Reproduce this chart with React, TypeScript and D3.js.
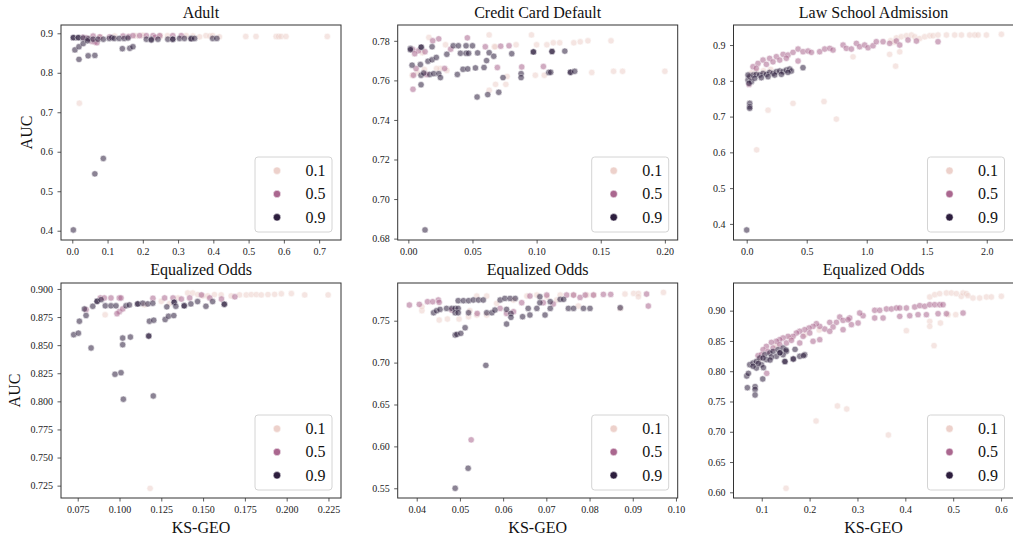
import React, { useEffect, useRef } from 'react';
import * as d3 from 'd3';

type Pt = [number, number];

// hue levels of the legend and their cubehelix colours
const hueLevels = ['0.1', '0.5', '0.9'];
const hueColors = ['#edd1cb', '#aa678f', '#2d1e3e'];

const titles = ['Adult', 'Credit Card Default', 'Law School Admission'];
const xLabels = ['Equalized Odds', 'KS-GEO'];
const yLabel = 'AUC';

// tick values
const adultEoXTicks = [0, 0.1, 0.2, 0.3, 0.4, 0.5, 0.6, 0.7];
const adultEoYTicks = [0.4, 0.5, 0.6, 0.7, 0.8, 0.9];
const creditEoXTicks = [0, 0.05, 0.1, 0.15, 0.2];
const creditEoYTicks = [0.68, 0.7, 0.72, 0.74, 0.76, 0.78];
const lawEoXTicks = [0, 0.5, 1.0, 1.5, 2.0];
const lawEoYTicks = [0.4, 0.5, 0.6, 0.7, 0.8, 0.9];
const adultKsXTicks = [0.075, 0.1, 0.125, 0.15, 0.175, 0.2, 0.225];
const adultKsYTicks = [0.725, 0.75, 0.775, 0.8, 0.825, 0.85, 0.875, 0.9];
const creditKsXTicks = [0.04, 0.05, 0.06, 0.07, 0.08, 0.09, 0.1];
const creditKsYTicks = [0.55, 0.6, 0.65, 0.7, 0.75];
const lawKsXTicks = [0.1, 0.2, 0.3, 0.4, 0.5, 0.6];
const lawKsYTicks = [0.6, 0.65, 0.7, 0.75, 0.8, 0.85, 0.9];

// ---- Adult, Equalized Odds vs AUC
const adultEoLow: Pt[] = [
  [0.02, 0.723], [0.05, 0.886], [0.08, 0.89], [0.12, 0.893], [0.18, 0.894], [0.2, 0.895], [0.25, 0.893],
  [0.27, 0.894], [0.323, 0.894], [0.342, 0.893], [0.361, 0.891], [0.379, 0.894], [0.39, 0.893], [0.398, 0.894],
  [0.417, 0.891], [0.492, 0.892], [0.521, 0.892], [0.578, 0.892], [0.585, 0.892], [0.592, 0.892], [0.606, 0.892],
  [0.723, 0.892],
];
const adultEoMid: Pt[] = [
  [0.03, 0.89], [0.04, 0.888], [0.055, 0.88], [0.059, 0.893], [0.064, 0.878], [0.07, 0.876], [0.078, 0.891],
  [0.106, 0.891], [0.144, 0.893], [0.16, 0.892], [0.172, 0.894], [0.191, 0.894], [0.21, 0.894], [0.229, 0.894],
  [0.235, 0.89], [0.248, 0.894], [0.285, 0.894], [0.309, 0.894],
];
const adultEoHigh: Pt[] = [
  [0.003, 0.889], [0.003, 0.889], [0.017, 0.889], [0.017, 0.889], [0.031, 0.888], [0.045, 0.886], [0.059, 0.885],
  [0.073, 0.885], [0.088, 0.885], [0.105, 0.887], [0.112, 0.889], [0.119, 0.887], [0.133, 0.887], [0.147, 0.887],
  [0.158, 0.888], [0.21, 0.885], [0.224, 0.885], [0.224, 0.883], [0.243, 0.885], [0.271, 0.885], [0.285, 0.885],
  [0.285, 0.885], [0.304, 0.887], [0.318, 0.887], [0.337, 0.887], [0.337, 0.886], [0.347, 0.887], [0.398, 0.887],
  [0.41, 0.887], [0.0075, 0.858], [0.019, 0.866], [0.031, 0.874], [0.043, 0.881], [0.019, 0.834], [0.045, 0.843],
  [0.064, 0.844], [0.142, 0.861], [0.163, 0.862], [0.172, 0.866], [0.064, 0.544], [0.088, 0.583], [0.003, 0.402],
];

// ---- Credit Card Default, Equalized Odds vs AUC
const creditEoLow: Pt[] = [
  [0.063, 0.783], [0.096, 0.783], [0.1, 0.778], [0.108, 0.778], [0.113, 0.779], [0.118, 0.779], [0.129, 0.779],
  [0.134, 0.7795], [0.14, 0.78], [0.158, 0.78], [0.084, 0.778], [0.067, 0.777], [0.016, 0.7817], [0.029, 0.778],
  [0.076, 0.758], [0.068, 0.758], [0.063, 0.755], [0.099, 0.7626], [0.106, 0.7626], [0.143, 0.764], [0.16, 0.7646],
  [0.167, 0.7646], [0.2, 0.7646], [0.077, 0.762], [0.007, 0.764], [0.0125, 0.7655], [0.025, 0.766], [0.003, 0.7626],
  [0.0676, 0.777], [0.022, 0.766], [0.03, 0.765], [0.011, 0.774],
];
const creditEoMid: Pt[] = [
  [0.0237, 0.781], [0.046, 0.7815], [0.019, 0.78], [0.06, 0.777], [0.072, 0.7773], [0.0785, 0.7775], [0.033, 0.7758],
  [0.0884, 0.7668], [0.1053, 0.767], [0.0694, 0.7665], [0.0283, 0.766], [0.0036, 0.7555], [0.014, 0.763],
  [0.004, 0.7626], [0.0034, 0.7756], [0.006, 0.766], [0.008, 0.775], [0.013, 0.7745], [0.005, 0.7735],
];
const creditEoHigh: Pt[] = [
  [0.0016, 0.7761], [0.01, 0.7768], [0.01, 0.7768], [0.0185, 0.777], [0.035, 0.7775], [0.039, 0.7775], [0.045, 0.7775],
  [0.05, 0.7775], [0.03, 0.7732], [0.0406, 0.7737], [0.045, 0.7737], [0.047, 0.7737], [0.054, 0.7739], [0.063, 0.774],
  [0.0666, 0.7722], [0.061, 0.77], [0.0806, 0.7735], [0.0975, 0.7744], [0.0975, 0.7744], [0.112, 0.7746],
  [0.112, 0.7746], [0.122, 0.7748], [0.0029, 0.7677], [0.0094, 0.768], [0.0153, 0.7697], [0.0185, 0.7704],
  [0.0218, 0.7716], [0.0426, 0.7656], [0.0463, 0.7658], [0.0523, 0.7663], [0.059, 0.7665], [0.0382, 0.763],
  [0.0738, 0.7614], [0.0879, 0.7634], [0.0879, 0.7614], [0.1095, 0.764], [0.111, 0.7641], [0.1264, 0.7641],
  [0.1264, 0.7641], [0.1297, 0.7646], [0.0099, 0.7578], [0.0099, 0.7626], [0.0166, 0.763], [0.0198, 0.7634],
  [0.0237, 0.7634], [0.025, 0.7614], [0.0536, 0.7516], [0.0619, 0.7528], [0.0705, 0.754], [0.013, 0.6844],
  [0.012, 0.7637], [0.0016, 0.7755],
];

// ---- Law School Admission, Equalized Odds vs AUC
const lawEoLow: Pt[] = [
  [1.247, 0.92], [1.288, 0.923], [1.33, 0.926], [1.372, 0.928], [1.4, 0.923], [1.441, 0.918], [1.483, 0.923],
  [1.525, 0.926], [1.553, 0.926], [1.594, 0.928], [1.664, 0.928], [1.733, 0.928], [1.789, 0.928], [1.858, 0.928],
  [1.9, 0.928], [1.928, 0.928], [1.997, 0.928], [2.122, 0.93], [1.2, 0.912], [1.23, 0.908], [0.886, 0.867],
  [1.191, 0.874], [1.241, 0.841], [1.275, 0.881], [0.178, 0.718], [0.386, 0.737], [0.644, 0.742], [0.747, 0.693],
  [0.083, 0.607], [0.04, 0.822], [0.08, 0.826], [0.14, 0.828], [0.2, 0.832], [0.03, 0.81],
];
const lawEoMid: Pt[] = [
  [0.0525, 0.8394], [0.094, 0.8487], [0.136, 0.858], [0.191, 0.8627], [0.247, 0.8674], [0.303, 0.874], [0.344, 0.872],
  [0.386, 0.8795], [0.428, 0.8888], [0.469, 0.8814], [0.511, 0.8832], [0.539, 0.8795], [0.608, 0.8814], [0.65, 0.8888],
  [0.692, 0.8907], [0.719, 0.886], [0.803, 0.9], [0.83, 0.8907], [0.872, 0.8888], [0.914, 0.9047], [0.941, 0.8953],
  [0.983, 0.9], [1.011, 0.8925], [1.053, 0.8981], [1.08, 0.9093], [1.136, 0.9093], [1.191, 0.9047], [1.247, 0.9112],
  [1.275, 0.9], [1.344, 0.914], [1.414, 0.9112], [1.594, 0.9093], [0.08, 0.835], [0.164, 0.846], [0.219, 0.853],
  [0.275, 0.858], [0.33, 0.863], [0.428, 0.8553], [0.02, 0.79],
];
const lawEoHigh: Pt[] = [
  [0.011, 0.8022], [0.025, 0.8115], [0.039, 0.7977], [0.053, 0.8162], [0.08, 0.8181], [0.108, 0.8162], [0.136, 0.8208],
  [0.164, 0.8181], [0.191, 0.8236], [0.219, 0.8208], [0.247, 0.8255], [0.275, 0.8274], [0.303, 0.8255], [0.33, 0.8301],
  [0.358, 0.8329], [0.372, 0.8274], [0.011, 0.8162], [0.019, 0.7929], [0.469, 0.8367], [0.025, 0.7371],
  [0.025, 0.7278], [0.025, 0.7231], [0.067, 0.807], [0.122, 0.8087], [0.178, 0.8115], [0.233, 0.8162],
  [0.289, 0.8181], [0.344, 0.8236], [0.0, 0.383],
];

// ---- Adult, KS-GEO vs AUC
const adultKsLow: Pt[] = [
  [0.0914, 0.877], [0.1408, 0.8964], [0.1438, 0.8964], [0.1468, 0.895], [0.1498, 0.8938], [0.1528, 0.8938],
  [0.1568, 0.895], [0.1608, 0.8947], [0.1668, 0.8938], [0.1718, 0.8947], [0.1758, 0.8947], [0.1788, 0.895],
  [0.1818, 0.895], [0.1848, 0.8947], [0.1888, 0.895], [0.1928, 0.8952], [0.1968, 0.8957], [0.2028, 0.8959],
  [0.2108, 0.8947], [0.2248, 0.8947], [0.1183, 0.7226], [0.125, 0.889], [0.13, 0.887], [0.135, 0.892], [0.115, 0.886],
];
const adultKsMid: Pt[] = [
  [0.0885, 0.892], [0.0909, 0.892], [0.0949, 0.892], [0.0999, 0.892], [0.1009, 0.892], [0.12, 0.8917], [0.127, 0.892],
  [0.132, 0.892], [0.137, 0.891], [0.142, 0.892], [0.149, 0.8947], [0.154, 0.892], [0.161, 0.891], [0.169, 0.893],
  [0.0999, 0.8798], [0.1019, 0.8822], [0.08, 0.8816], [0.0985, 0.878],
];
const adultKsHigh: Pt[] = [
  [0.0726, 0.8593], [0.0754, 0.8607], [0.076, 0.8713], [0.08, 0.8764], [0.079, 0.8822], [0.083, 0.8475], [0.084, 0.8846],
  [0.0866, 0.889], [0.0866, 0.889], [0.089, 0.8905], [0.0915, 0.885], [0.0949, 0.885], [0.0979, 0.885], [0.1019, 0.8563],
  [0.1065, 0.8572], [0.1019, 0.8504], [0.1039, 0.885], [0.1059, 0.8858], [0.1109, 0.8867], [0.1109, 0.8867],
  [0.1139, 0.8873], [0.1169, 0.8867], [0.1199, 0.8873], [0.1175, 0.8581], [0.1175, 0.8581], [0.1179, 0.8713],
  [0.1205, 0.8722], [0.1273, 0.8728], [0.1293, 0.8757], [0.1325, 0.8763], [0.1283, 0.8841], [0.1327, 0.8882],
  [0.1327, 0.8882], [0.1337, 0.8846], [0.1387, 0.885], [0.1387, 0.885], [0.1427, 0.8867], [0.1467, 0.8888],
  [0.1517, 0.8846], [0.1557, 0.8888], [0.1627, 0.8864], [0.1627, 0.8864], [0.0973, 0.8241], [0.1009, 0.8255],
  [0.1023, 0.8019], [0.1202, 0.8048],
];

// ---- Credit Card Default, KS-GEO vs AUC
const creditKsLow: Pt[] = [
  [0.0412, 0.7619], [0.0452, 0.7508], [0.0471, 0.752], [0.0498, 0.752], [0.052, 0.7548], [0.0539, 0.7568],
  [0.0562, 0.7568], [0.0539, 0.7794], [0.0562, 0.7794], [0.0655, 0.7794], [0.0678, 0.7806], [0.0701, 0.7786],
  [0.0732, 0.7806], [0.0763, 0.7806], [0.0794, 0.7806], [0.081, 0.7806], [0.0882, 0.7818], [0.0902, 0.7826],
  [0.0913, 0.7826], [0.0913, 0.7786], [0.0971, 0.7838], [0.0871, 0.7647], [0.0412, 0.7667], [0.0523, 0.7619],
  [0.0585, 0.7707], [0.0624, 0.7747], [0.0724, 0.7747], [0.0774, 0.7675],
];
const creditKsMid: Pt[] = [
  [0.0383, 0.7687], [0.0406, 0.7695], [0.0425, 0.7727], [0.0437, 0.7727], [0.045, 0.7747], [0.0452, 0.7719],
  [0.0526, 0.6078], [0.054, 0.7587], [0.0593, 0.7647], [0.0608, 0.7587], [0.0643, 0.7715], [0.0662, 0.7794],
  [0.0693, 0.7715], [0.0701, 0.7806], [0.0716, 0.7699], [0.0747, 0.7806], [0.0763, 0.7806], [0.0778, 0.7778],
  [0.079, 0.7806], [0.0832, 0.7814], [0.0849, 0.7814], [0.0932, 0.7818], [0.0936, 0.7675], [0.0809, 0.7806],
  [0.0481, 0.7627], [0.0624, 0.7607],
];
const creditKsHigh: Pt[] = [
  [0.0439, 0.7595], [0.0446, 0.7619], [0.0454, 0.7635], [0.0469, 0.7647], [0.0481, 0.7647], [0.0489, 0.7647],
  [0.0496, 0.7647], [0.0489, 0.7595], [0.0496, 0.7595], [0.052, 0.7595], [0.0489, 0.7329], [0.0493, 0.7337],
  [0.0502, 0.7349], [0.0512, 0.7416], [0.056, 0.6967], [0.0519, 0.5739], [0.0489, 0.55], [0.0496, 0.7739],
  [0.0508, 0.7739], [0.052, 0.7739], [0.0531, 0.7747], [0.0543, 0.7747], [0.0554, 0.7747], [0.0562, 0.7595],
  [0.0574, 0.7595], [0.0581, 0.7627], [0.0593, 0.7747], [0.0604, 0.7766], [0.0616, 0.7766], [0.0628, 0.7766],
  [0.0608, 0.7635], [0.0618, 0.7587], [0.0618, 0.754], [0.0608, 0.746], [0.0645, 0.7548], [0.0658, 0.7647],
  [0.0662, 0.7568], [0.0678, 0.7647], [0.0685, 0.7715], [0.0697, 0.7568], [0.0709, 0.7647], [0.0709, 0.7727],
  [0.0732, 0.7755], [0.074, 0.7755], [0.0751, 0.7647], [0.0763, 0.7647], [0.0786, 0.7647], [0.0801, 0.7647],
  [0.0871, 0.7655], [0.0685, 0.7786],
];

// ---- Law School Admission, KS-GEO vs AUC
const lawKsLow: Pt[] = [
  [0.451, 0.9226], [0.4614, 0.9264], [0.4718, 0.9281], [0.4857, 0.9292], [0.4962, 0.9292], [0.5066, 0.9281],
  [0.517, 0.9237], [0.5205, 0.9292], [0.5275, 0.9281], [0.531, 0.9248], [0.5414, 0.9209], [0.5553, 0.9209],
  [0.5693, 0.9226], [0.5797, 0.9226], [0.6006, 0.9237], [0.4022, 0.867], [0.451, 0.8824], [0.451, 0.8741],
  [0.4733, 0.8796], [0.4893, 0.8934], [0.5053, 0.8934], [0.46, 0.8422], [0.2135, 0.7178], [0.2581, 0.7426],
  [0.2776, 0.7376], [0.3646, 0.6947], [0.1508, 0.6066], [0.13, 0.842], [0.16, 0.855], [0.19, 0.86], [0.22, 0.868],
  [0.095, 0.82],
];
const lawKsMid: Pt[] = [
  [0.336, 0.9006], [0.3465, 0.9006], [0.3604, 0.9028], [0.3709, 0.9028], [0.3813, 0.9044], [0.3883, 0.9044],
  [0.4022, 0.9044], [0.4196, 0.9061], [0.4301, 0.9083], [0.4405, 0.9072], [0.451, 0.9099], [0.4614, 0.9099],
  [0.4719, 0.9099], [0.4788, 0.9099], [0.3535, 0.8879], [0.336, 0.8879], [0.3883, 0.8906], [0.4092, 0.8917],
  [0.4266, 0.8934], [0.444, 0.8934], [0.4684, 0.895], [0.4858, 0.895], [0.5206, 0.8961], [0.3117, 0.8917],
  [0.3047, 0.8961], [0.2838, 0.8879], [0.263, 0.8895], [0.256, 0.8807], [0.2421, 0.8807], [0.249, 0.873],
  [0.2316, 0.8697], [0.2212, 0.8741], [0.2142, 0.8785], [0.2072, 0.8741], [0.1989, 0.8714], [0.1898, 0.8686],
  [0.1794, 0.8659], [0.1724, 0.8631], [0.1655, 0.8576], [0.155, 0.8576], [0.1446, 0.8549], [0.1376, 0.8521],
  [0.1306, 0.8494], [0.1202, 0.8477], [0.1097, 0.8411], [0.1028, 0.8356], [0.0923, 0.8257], [0.1132, 0.8328],
  [0.0993, 0.8273], [0.1515, 0.8466], [0.1794, 0.8466], [0.2072, 0.8494], [0.2212, 0.8521], [0.2421, 0.8659],
  [0.2699, 0.8686], [0.2873, 0.8769], [0.3013, 0.8796], [0.2699, 0.884], [0.2804, 0.8851], [0.1237, 0.8383],
  [0.1376, 0.8439], [0.162, 0.851], [0.1864, 0.8576], [0.2003, 0.8631], [0.1104, 0.7965],
];
const lawKsHigh: Pt[] = [
  [0.0749, 0.8108], [0.0819, 0.8136], [0.0889, 0.8163], [0.0958, 0.8218], [0.1063, 0.8273], [0.1167, 0.8301],
  [0.1237, 0.8328], [0.1341, 0.8356], [0.1446, 0.8383], [0.1515, 0.8328], [0.1446, 0.8273], [0.1306, 0.8246],
  [0.1097, 0.8191], [0.0993, 0.8108], [0.0889, 0.8053], [0.0819, 0.8081], [0.1028, 0.8218], [0.1202, 0.8235],
  [0.1376, 0.8301], [0.148, 0.8163], [0.1655, 0.8202], [0.1794, 0.8246], [0.1898, 0.8273], [0.0687, 0.7921],
  [0.0721, 0.7965], [0.07, 0.7728], [0.0861, 0.7745], [0.0861, 0.77], [0.0861, 0.7607], [0.1021, 0.7872],
  [0.1487, 0.8158], [0.1662, 0.8202], [0.1871, 0.8257], [0.1035, 0.8059], [0.093, 0.813], [0.1174, 0.8185],
  [0.1383, 0.8306], [0.1508, 0.835], [0.1696, 0.8361],
];

const FONT = "'Liberation Serif', 'Times New Roman', serif";
const W = 1013;
const H = 539;
const colLeft = [61, 397.7, 733.5];
const rowTop = [25, 283];
const panelW = 280;
const panelH = 215;

interface PanelSpec {
  row: number;
  col: number;
  xDomain: [number, number];
  yDomain: [number, number];
  xTicks: number[];
  yTicks: number[];
  xFmt: string;
  yFmt: string;
  series: Pt[][];
}

const panels: PanelSpec[] = [
  { row: 0, col: 0, xDomain: [-0.032, 0.762], yDomain: [0.3765, 0.921], xTicks: adultEoXTicks, yTicks: adultEoYTicks, xFmt: '.1f', yFmt: '.1f', series: [adultEoLow, adultEoMid, adultEoHigh] },
  { row: 0, col: 1, xDomain: [-0.0083, 0.21], yDomain: [0.6793, 0.788], xTicks: creditEoXTicks, yTicks: creditEoYTicks, xFmt: '.2f', yFmt: '.2f', series: [creditEoLow, creditEoMid, creditEoHigh] },
  { row: 0, col: 2, xDomain: [-0.11, 2.223], yDomain: [0.355, 0.956], xTicks: lawEoXTicks, yTicks: lawEoYTicks, xFmt: '.1f', yFmt: '.1f', series: [lawEoLow, lawEoMid, lawEoHigh] },
  { row: 1, col: 0, xDomain: [0.065, 0.2325], yDomain: [0.714, 0.9053], xTicks: adultKsXTicks, yTicks: adultKsYTicks, xFmt: '.3f', yFmt: '.3f', series: [adultKsLow, adultKsMid, adultKsHigh] },
  { row: 1, col: 1, xDomain: [0.0356, 0.1004], yDomain: [0.5384, 0.795], xTicks: creditKsXTicks, yTicks: creditKsYTicks, xFmt: '.2f', yFmt: '.2f', series: [creditKsLow, creditKsMid, creditKsHigh] },
  { row: 1, col: 2, xDomain: [0.041, 0.626], yDomain: [0.5906, 0.9457], xTicks: lawKsXTicks, yTicks: lawKsYTicks, xFmt: '.1f', yFmt: '.2f', series: [lawKsLow, lawKsMid, lawKsHigh] },
];

const App: React.FC = () => {
  const svgRef = useRef<SVGSVGElement>(null);

  useEffect(() => {
    if (!svgRef.current) return;
    const svg = d3.select(svgRef.current);
    svg.selectAll('*').remove();

    panels.forEach(p => {
      const left = colLeft[p.col];
      const top = rowTop[p.row];
      const x = d3.scaleLinear().domain(p.xDomain).range([0, panelW]);
      const y = d3.scaleLinear().domain(p.yDomain).range([panelH, 0]);

      const g = svg.append('g').attr('transform', `translate(${left},${top})`);

      // points, one hue level at a time
      p.series.forEach((pts, i) => {
        g.append('g')
          .selectAll('circle')
          .data(pts)
          .enter()
          .append('circle')
          .attr('cx', d => x(d[0]))
          .attr('cy', d => y(d[1]))
          .attr('r', 3.2)
          .attr('fill', hueColors[i])
          .attr('stroke', '#fff')
          .attr('stroke-width', 0.6)
          .attr('opacity', 0.55);
      });

      // axes
      const xAxis = g.append('g')
        .attr('transform', `translate(0,${panelH})`)
        .call(d3.axisBottom(x).tickValues(p.xTicks).tickFormat(d3.format(p.xFmt) as any).tickSize(3.5).tickPadding(4).tickSizeOuter(0));
      const yAxis = g.append('g')
        .call(d3.axisLeft(y).tickValues(p.yTicks).tickFormat(d3.format(p.yFmt) as any).tickSize(3.5).tickPadding(4.5).tickSizeOuter(0));
      [xAxis, yAxis].forEach(a => {
        a.select('.domain').remove();
        a.selectAll('line').attr('stroke', '#333').attr('stroke-width', 0.8);
        a.selectAll('text').attr('font-family', FONT).attr('font-size', 10).attr('fill', '#222');
      });

      // frame
      g.append('rect')
        .attr('width', panelW)
        .attr('height', panelH)
        .attr('fill', 'none')
        .attr('stroke', '#333')
        .attr('stroke-width', 1);

      // legend
      const lw = 77;
      const lh = 75;
      const lg = g.append('g').attr('transform', `translate(${panelW - 9 - lw},${panelH - 8 - lh})`);
      lg.append('rect')
        .attr('width', lw)
        .attr('height', lh)
        .attr('rx', 3)
        .attr('fill', '#fff')
        .attr('fill-opacity', 0.8)
        .attr('stroke', '#d4d4d4')
        .attr('stroke-width', 1);
      hueLevels.forEach((lab, i) => {
        const cy = 13.7 + i * 23.3;
        lg.append('circle').attr('cx', 22).attr('cy', cy).attr('r', 3.7)
          .attr('fill', hueColors[i]).attr('stroke', '#fff').attr('stroke-width', 0.5);
        lg.append('text').attr('x', 50.5).attr('y', cy).attr('dy', '0.34em')
          .attr('font-family', FONT).attr('font-size', 16).attr('fill', '#111').text(lab);
      });

      // titles and labels
      if (p.row === 0) {
        g.append('text').attr('x', panelW / 2).attr('y', -7).attr('text-anchor', 'middle')
          .attr('font-family', FONT).attr('font-size', 16).attr('fill', '#111').text(titles[p.col]);
      }
      g.append('text').attr('x', panelW / 2).attr('y', panelH + 34.5).attr('text-anchor', 'middle')
        .attr('font-family', FONT).attr('font-size', 16).attr('fill', '#111').text(xLabels[p.row]);
      if (p.col === 0) {
        const yl = p.row === 0 ? -29.5 : -41;
        g.append('text').attr('transform', `translate(${yl},${panelH / 2}) rotate(-90)`).attr('text-anchor', 'middle')
          .attr('font-family', FONT).attr('font-size', 16).attr('fill', '#111').text(yLabel);
      }
    });
  }, []);

  return (
    <svg
      ref={svgRef}
      width={W}
      height={H}
      style={{ position: 'absolute', left: 0, top: 0, background: '#fff' }}
    />
  );
};

export default App;
